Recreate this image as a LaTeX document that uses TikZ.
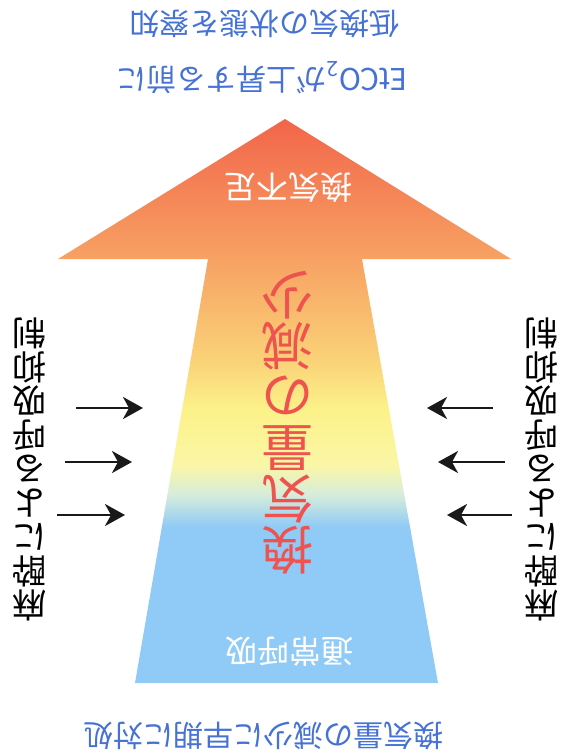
\documentclass[tikz,border=0pt]{standalone}
\usepackage{fontspec}
\usepackage{xcolor}
\usepackage{tikz}
\usetikzlibrary{arrows.meta}
\newfontfamily\jpfont{Noto Sans CJK JP}
\newcommand{\colskip}{\setlength{\lineskiplimit}{-60pt}}
\definecolor{skyblue}{HTML}{8FCBF6}
\definecolor{paleblue}{HTML}{D6ECDC}
\definecolor{paleyellow}{HTML}{FAF6A6}
\definecolor{lemon}{HTML}{FCF28A}
\definecolor{apricot}{HTML}{FAD277}
\definecolor{tangerine}{HTML}{F7A263}
\definecolor{tomato}{HTML}{F2654A}
\definecolor{notered}{HTML}{EF5350}
\definecolor{noteblue}{HTML}{4672D6}
\pgfdeclareverticalshading{ventshade}{100bp}{color(0bp)=(skyblue); color(25bp)=(skyblue); color(38.8bp)=(skyblue); color(41.7bp)=(paleblue); color(44.3bp)=(paleyellow); color(49.2bp)=(lemon); color(53.6bp)=(apricot); color(62.5bp)=(tangerine); color(75bp)=(tomato); color(100bp)=(tomato)}

\begin{document}
\begin{tikzpicture}[x=1pt,y=-1pt]
					\tikzstyle{note}=[rotate=180,inner sep=0pt,text=noteblue,font=\jpfont\fontsize{30}{34}\selectfont]
					\tikzstyle{inside}=[rotate=180,inner sep=0pt,text=white,font=\jpfont\fontsize{32}{36}\selectfont]
					\tikzstyle{column}=[rotate=180,inner sep=0pt,align=center,font=\jpfont\fontsize{34}{34}\selectfont\colskip]
					\tikzset{push/.style={-{Stealth[length=20pt,width=22pt,inset=6pt]},line width=2.5pt,black!90}}
					\useasboundingbox (0,0) rectangle (569,756);
					\shade[shading=ventshade] (285,119) -- (511,259) -- (362,259) -- (438,683) -- (135,683) -- (208,259) -- (58,259) -- cycle;
					\node[note](detect) at (264,24) {低換気の状態を察知};
					\node[note](etco) at (262,78) {EtCO\textsubscript{2}が上昇する前に};
					\node[note](early) at (263,736) {換気量の減少に早期に対処};
					\node[inside](lack) at (288,188) {換気不足};
					\node[inside](normal) at (289,652) {通常呼吸};
					\node[column,text=notered,font=\jpfont\fontsize{52}{51}\selectfont\colskip](drop) at (287,423) {換\\気\\量\\の\\減\\少};
					\node[column](leftcause) at (29,469) {麻\\酔\\に\\よ\\る\\呼\\吸\\抑\\制};
					\node[column](rightcause) at (541,469) {麻\\酔\\に\\よ\\る\\呼\\吸\\抑\\制};
					\coordinate (lt1) at (76,408);
					\coordinate (lh1) at (143,408);
					\coordinate (lt2) at (65,462);
					\coordinate (lh2) at (132,462);
					\coordinate (lt3) at (57,515);
					\coordinate (lh3) at (125,515);
					\coordinate (rt1) at (493,408);
					\coordinate (rh1) at (427,408);
					\coordinate (rt2) at (505,462);
					\coordinate (rh2) at (438,462);
					\coordinate (rt3) at (512,515);
					\coordinate (rh3) at (447,515);
					\draw[push] (lt1) -- (lh1);
					\draw[push] (lt2) -- (lh2);
					\draw[push] (lt3) -- (lh3);
					\draw[push] (rt1) -- (rh1);
					\draw[push] (rt2) -- (rh2);
					\draw[push] (rt3) -- (rh3);
				\end{tikzpicture}
\end{document}
